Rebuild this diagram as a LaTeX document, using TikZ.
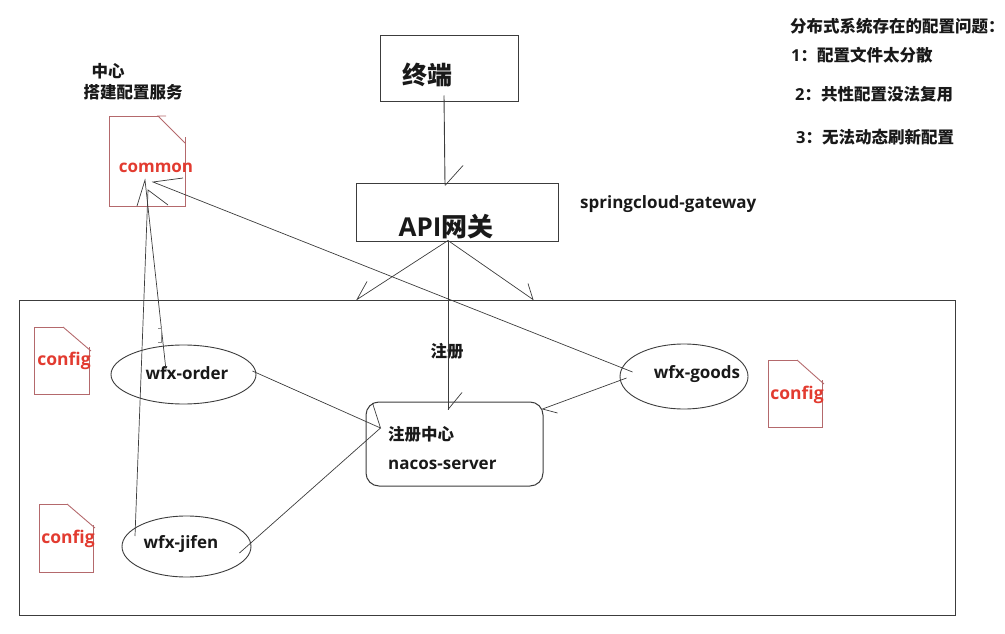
\documentclass[tikz,border=0pt]{standalone}
\usepackage{fontspec}
\setmainfont{Open Sans}
\newfontfamily\cjk{Noto Sans CJK SC}
\usetikzlibrary{shapes.geometric}
\usetikzlibrary{calc}
\definecolor{lineGray}{HTML}{3C3C3C}
\definecolor{docLine}{HTML}{B4696C}
\definecolor{docText}{HTML}{E23B30}
\tikzstyle{Line}=[line width=.9pt,color=lineGray]
\tikzstyle{thinLine}=[line width=.7pt,color=lineGray]
\tikzstyle{Box}=[draw=lineGray,line width=1pt,inner sep=0pt,rectangle]
\tikzstyle{Service}=[draw=lineGray,line width=.9pt,inner sep=0pt,ellipse]
\tikzstyle{Doc}=[line width=.9pt,color=docLine]
\tikzstyle{Label}=[inner sep=0pt,font=\bfseries\fontsize{17}{19}\selectfont,text=black!90]
\tikzstyle{CnLabel}=[Label,font=\cjk\bfseries\fontsize{16.5}{19}\selectfont]
\tikzstyle{DocLabel}=[Label,text=docText,font=\bfseries\fontsize{17.5}{19}\selectfont]

\begin{document}
\begin{tikzpicture}[x=1pt,y=-1pt]
  \useasboundingbox (0,0) rectangle (1005,634);

  % Boxes
  \node [Box,minimum width=138pt,minimum height=66pt](Terminal) at (449,69){};
  \node [Box,minimum width=202pt,minimum height=58pt](Gateway) at (457,212){};
  \node [Box,minimum width=936pt,minimum height=315pt](Cluster) at (487,457.5){};
  \node [Box,rounded corners=13pt,minimum width=177pt,minimum height=84pt](Nacos) at (454.5,444){};

  % Services
  \node [Service,minimum width=145pt,minimum height=59pt](Order) at (183.5,374.5){};
  \node [Service,minimum width=129pt,minimum height=61pt](Jifen) at (186.5,546.5){};
  \node [Service,minimum width=128pt,minimum height=65pt](Goods) at (684,376.5){};

  % Config files
  \draw[Doc](158,116)--(109,116)--(109,206)--(185,206)--(185,137);
  \draw[Doc](166,116)--(158,116)--(185,143);
  \draw[Doc](63,327)--(34,327)--(34,394)--(89,394)--(89,347);
  \draw[Doc](63,327)--(91,351);
  \draw[Doc](67,504)--(39,504)--(39,572)--(93,572)--(93,525);
  \draw[Doc](67,504)--(95,528);
  \draw[Doc](797,360)--(768,360)--(768,427)--(822,427)--(822,380);
  \draw[Doc](797,360)--(824,384);

  % Text
  \node [DocLabel,font=\bfseries\fontsize{17}{19}\selectfont](Common) at (156,168){common};
  \node [DocLabel](ConfigA) at (64,361){config};
  \node [DocLabel](ConfigB) at (68,539){config};
  \node [DocLabel](ConfigC) at (797,395){config};
  \node [Label](OrderName) at (187,373){wfx-order};
  \node [Label](JifenName) at (181,544){wfx-jifen};
  \node [Label](GoodsName) at (697,374){wfx-goods};
  \node [CnLabel,font=\cjk\bfseries\fontsize{25}{28}\selectfont](TerminalName) at (427,75){终端};
  \node [Label,font=\bfseries\fontsize{26}{28}\selectfont](GatewayName) at (446,227){API{\cjk 网关}};
  \node [Label,anchor=west](GatewayTool) at (580,204){springcloud-gateway};
  \node [CnLabel](ConfigCenterA) at (108,71){中心};
  \node [CnLabel](ConfigCenterB) at (133,92){搭建配置服务};
  \node [CnLabel](Register) at (447,351){注册};
  \node [CnLabel,anchor=west](NacosCn) at (388,434){注册中心};
  \node [Label,anchor=west](NacosName) at (388,465){nacos-server};

  % Problems
  \node [CnLabel,anchor=west](ProblemTitle) at (790,26){分布式系统存在的配置问题\char"FF1A};
  \node [CnLabel,anchor=west](ProblemA) at (791,55){{\bfseries\fontspec{Open Sans}1}\char"FF1A 配置文件太分散};
  \node [CnLabel,anchor=west](ProblemB) at (795,94){{\bfseries\fontspec{Open Sans}2}\char"FF1A 共性配置没法复用};
  \node [CnLabel,anchor=west](ProblemC) at (796,137){{\bfseries\fontspec{Open Sans}3}\char"FF1A 无法动态刷新配置};

  % Terminal to gateway
  \draw[Line]($(Terminal.south)+(-5,-7)$)--($(Gateway.north)+(-12,2)$);
  \draw[thinLine]($(Gateway.north)+(-12,3)$)--++(18,-20);

  % Gateway to cluster
  \coordinate (GatewayHub) at ($(Gateway.south)+(-9,-1)$);
  \draw[thinLine](GatewayHub)--($(Cluster.north)+(-130,0)$)--++(10,-18);
  \draw[thinLine](GatewayHub)--($(Cluster.north)+(46,0)$)--++(-5,-16);
  \draw[Line](GatewayHub)--($(Nacos.north)+(-6.5,8)$);
  \draw[thinLine]($(Nacos.north)+(-6.5,8)$)--++(14,-17);

  % Services to common
  \draw[thinLine]($(Goods.west)+(13,-4.5)$)--($(Common.center)+(-3,14)$)--++(30,-4);
  \draw[thinLine]($(Order.center)+(-17.5,-4.5)$)--($(Common.center)+(-11,12)$)--++(-8,26);
  \draw[thinLine]($(Jifen.center)+(-51.5,-10.5)$)--($(Common.center)+(-8,22)$)--++(20,15);

  % Services to nacos
  \coordinate (NacosHub) at ($(Nacos.west)+(15,-16)$);
  \draw[thinLine]($(Order.east)+(-4,-3.5)$)--(NacosHub)--++(-8,-25);
  \draw[thinLine]($(Jifen.east)+(-12,6.5)$)--(NacosHub);
  \draw[thinLine]($(Goods.west)+(7,1.5)$)--($(Nacos.east)+(-1,-35)$)--++(15,4);

  % Cursor
  \draw[line width=.5pt,color=black!45](158,328)--(161,328)--(161,342)--(158,342);

\end{tikzpicture}
\end{document}
